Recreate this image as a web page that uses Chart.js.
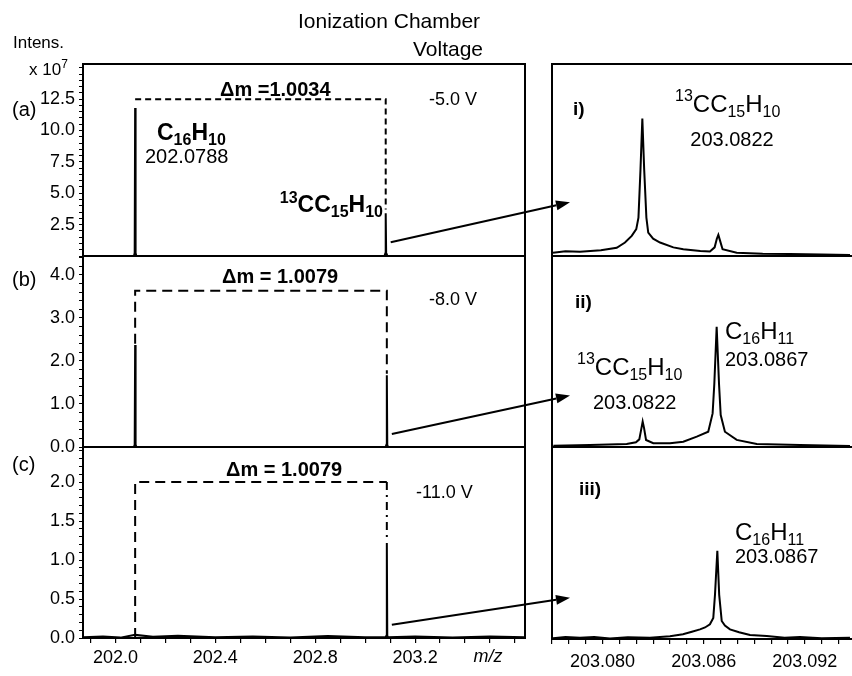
<!DOCTYPE html>
<html>
<head>
<meta charset="utf-8">
<script src="https://cdn.jsdelivr.net/npm/chart.js@4.4.1/dist/chart.umd.min.js"></script>
<style>
  html, body { margin: 0; padding: 0; background: #fff; }
  #wrap { position: relative; width: 852px; height: 676px; }
  #wrap canvas { position: absolute; left: 0; top: 0; }
</style>
</head>
<body>
<div id="wrap">
  <canvas id="pa" width="852" height="676"></canvas>
  <canvas id="pb" width="852" height="676"></canvas>
  <canvas id="pc" width="852" height="676"></canvas>
  <canvas id="pi" width="852" height="676"></canvas>
  <canvas id="pii" width="852" height="676"></canvas>
  <canvas id="piii" width="852" height="676"></canvas>
</div>
<script>
// ---------- data ----------
const mzC16H10 = 202.0788;
const mz13C = 203.0822;
const mzC16H11 = 203.0867;

// left side: wide m/z range, intensity x 10^7
const leftXMin = 201.87, leftXMax = 203.64;
const leftXLabels = [202.0, 202.4, 202.8, 203.2];

const specA_mz = [201.87, 202.0740, 202.0770, 202.0788, 202.0806, 202.0836, 203.0774, 203.0804, 203.0822, 203.0840, 203.0870, 203.64];
const specA_int = [0, 0, 0.25, 11.8, 0.25, 0, 0, 0.2, 3.4, 0.2, 0, 0];
const specB_mz = [201.87, 202.0740, 202.0770, 202.0788, 202.0806, 202.0836, 203.0819, 203.0849, 203.0867, 203.0885, 203.0915, 203.64];
const specB_int = [0, 0, 0.06, 2.37, 0.06, 0, 0, 0.05, 1.67, 0.05, 0, 0];
const specC_mz = [201.87, 201.95, 202.02, 202.0788, 202.15, 202.25, 202.40, 202.55, 202.70, 202.85, 203.00, 203.0819, 203.0849, 203.0867, 203.0885, 203.0915, 203.20, 203.35, 203.50, 203.64];
const specC_int = [0.01, 0.02, 0.005, 0.04, 0.015, 0.03, 0.01, 0.02, 0.008, 0.025, 0.01, 0.01, 0.03, 1.22, 0.03, 0.01, 0.02, 0.005, 0.02, 0.01];

// dashed Δm brackets
const brA_mz = [mzC16H10, mz13C, mz13C];
const brA_int = [12.5, 12.5, 3.7];
const brB_mz = [mzC16H10, mzC16H10, mzC16H11, mzC16H11];
const brB_int = [2.4, 3.63, 3.63, 1.7];
const brC_mz = [mzC16H10, mzC16H10, mzC16H11];
const brC_int = [0, 2.0, 2.0];
const brC2_mz = [mzC16H11, mzC16H11];
const brC2_int = [2.0, 1.25];

const yA_labels = [2.5, 5.0, 7.5, 10.0, 12.5];
const yB_labels = [0, 1, 2, 3, 4];
const yC_labels = [0, 0.5, 1.0, 1.5, 2.0];

// right side: zoom on m/z 203.08, relative intensity
const rightXMin = 203.0770, rightXMax = 203.0948;
const rightXLabels = [203.080, 203.086, 203.092];

const zoomI_mz = [203.07706, 203.07780, 203.07866, 203.07990, 203.08084, 203.08133, 203.08173, 203.08200, 203.08213,
  203.08225, 203.08236, 203.08247, 203.08260, 203.08271, 203.08300, 203.08341, 203.08420, 203.08479,
  203.08580, 203.08637, 203.08665, 203.08678, 203.08687, 203.08697, 203.08712, 203.08796, 203.08950,
  203.09112, 203.09300, 203.09468];
const zoomI_int = [0.017, 0.025, 0.022, 0.030, 0.043, 0.07, 0.105, 0.14, 0.2,
  0.45, 0.716, 0.45, 0.2, 0.122, 0.09, 0.07, 0.045, 0.035,
  0.026, 0.023, 0.045, 0.09, 0.11, 0.08, 0.035, 0.017, 0.012,
  0.01, 0.008, 0.005];

const zoomII_mz = [203.07708, 203.07925, 203.08143, 203.08198, 203.08218, 203.08231, 203.08238, 203.08246,
  203.08258, 203.08301, 203.08400, 203.08479, 203.08559, 203.08627, 203.08653, 203.08663, 203.08677,
  203.08691, 203.08701, 203.08726, 203.08796, 203.08915, 203.09171, 203.09468];
const zoomII_int = [0.007, 0.01, 0.016, 0.025, 0.04, 0.1, 0.133, 0.1,
  0.037, 0.02, 0.02, 0.028, 0.054, 0.08, 0.176, 0.33, 0.63,
  0.33, 0.167, 0.08, 0.037, 0.016, 0.01, 0.005];

const zoomIII_mz = [203.07706, 203.07780, 203.07866, 203.07950, 203.08044, 203.08150, 203.08281, 203.08400,
  203.08477, 203.08530, 203.08578, 203.08608, 203.08637, 203.08657, 203.08667, 203.08681, 203.08692, 203.08707,
  203.08726, 203.08756, 203.08810, 203.08875, 203.08974, 203.09080, 203.09171, 203.09300, 203.09468];
const zoomIII_int = [0.004, 0.01, 0.006, 0.011, 0.003, 0.009, 0.007, 0.014,
  0.025, 0.038, 0.05, 0.06, 0.077, 0.11, 0.23, 0.46, 0.23, 0.094,
  0.07, 0.05, 0.035, 0.021, 0.016, 0.006, 0.01, 0.004, 0.006];

// ---------- helpers ----------
const FONT = '"Liberation Sans", Arial, Helvetica, sans-serif';
const charts = {};

function steps(from, to, step) {
  const out = [];
  const n = Math.round((to - from) / step);
  for (let i = 0; i <= n; i++) out.push(+(from + i * step).toFixed(6));
  return out;
}
function isLabel(list, v) { return list.some(l => Math.abs(l - v) < 1e-7); }
function pts(xs, ys) { return xs.map((x, i) => ({ x: x, y: ys[i] })); }

function line(xs, ys, width, dash) {
  return {
    data: pts(xs, ys), showLine: true, borderColor: '#000', borderWidth: width,
    borderDash: dash || [], pointRadius: 0, tension: 0, fill: false
  };
}

// text with _{sub} and ^{sup}
function drawRich(ctx, n) {
  const size = n.size || 18;
  const small = n.small || Math.round(size * 0.68);
  const weight = n.bold ? 'bold ' : '';
  const style = n.italic ? 'italic ' : '';
  const segs = [];
  const re = /(\^|_)\{([^}]*)\}|([^_^]+)/g;
  let m;
  while ((m = re.exec(n.text)) !== null) {
    if (m[3]) segs.push({ t: m[3], k: 'n' });
    else segs.push({ t: m[2], k: m[1] === '_' ? 'sub' : 'sup' });
  }
  let total = 0;
  segs.forEach(s => {
    ctx.font = style + weight + (s.k === 'n' ? size : small) + 'px ' + FONT;
    s.w = ctx.measureText(s.t).width;
    total += s.w;
  });
  let x = n.x;
  if (n.align === 'right') x -= total;
  else if (n.align === 'center') x -= total / 2;
  ctx.fillStyle = '#000';
  ctx.textBaseline = 'middle';
  ctx.textAlign = 'left';
  segs.forEach(s => {
    ctx.font = style + weight + (s.k === 'n' ? size : small) + 'px ' + FONT;
    let y = n.y;
    if (s.k === 'sub') y += size * 0.3;
    if (s.k === 'sup') y -= size * 0.33;
    ctx.fillText(s.t, x, y);
    x += s.w;
  });
}

function panelPlugin(p) {
  return {
    id: 'panel_' + p.name,
    afterDatasetsDraw(chart) {
      const ctx = chart.ctx, a = chart.chartArea;
      ctx.save();
      ctx.strokeStyle = '#000';
      ctx.lineWidth = 2;
      ctx.setLineDash([]);
      ctx.beginPath();
      if (p.open) {
        ctx.moveTo(a.right + 5, a.top); ctx.lineTo(a.left, a.top);
        ctx.lineTo(a.left, a.bottom); ctx.lineTo(a.right + 5, a.bottom);
      } else {
        ctx.rect(a.left, a.top, a.right - a.left, a.bottom - a.top);
      }
      ctx.stroke();
      (p.notes || []).forEach(n => drawRich(ctx, n));
      if (p.arrow) {
        const L = charts[p.arrow.src];
        const x0 = L.scales.x.getPixelForValue(p.arrow.mz) + 5;
        const y0 = L.scales.y.getPixelForValue(p.arrow.v);
        const x1 = a.left + 18;
        const y1 = chart.scales.y.getPixelForValue(p.arrow.tipV);
        const ang = Math.atan2(y1 - y0, x1 - x0);
        const hl = 14, hw = 5;
        const bx = x1 - hl * Math.cos(ang), by = y1 - hl * Math.sin(ang);
        ctx.lineWidth = 2;
        ctx.beginPath(); ctx.moveTo(x0, y0); ctx.lineTo(bx, by); ctx.stroke();
        ctx.beginPath();
        ctx.moveTo(x1, y1);
        ctx.lineTo(bx + hw * Math.sin(ang), by - hw * Math.cos(ang));
        ctx.lineTo(bx - hw * Math.sin(ang), by + hw * Math.cos(ang));
        ctx.closePath();
        ctx.fillStyle = '#000';
        ctx.fill();
      }
      ctx.restore();
    }
  };
}

function makeChart(id, p) {
  const xTicks = p.xLabels ? (p.side === 'left' ? steps(201.9, 203.6, 0.1) : steps(203.077, 203.094, 0.001)) : [];
  const xDec = p.side === 'left' ? 1 : 3;
  const yWidth = p.side === 'left' ? 50 : 0;
  const xHeight = p.showX ? 30 : 0;
  const cfg = {
    type: 'scatter',
    data: { datasets: p.datasets },
    options: {
      responsive: false,
      animation: false,
      events: [],
      layout: {
        padding: {
          left: p.area.left - yWidth,
          top: p.area.top,
          right: 852 - p.area.right,
          bottom: 676 - p.area.bottom - xHeight
        }
      },
      plugins: { legend: { display: false }, tooltip: { enabled: false } },
      scales: {
        x: {
          type: 'linear',
          min: p.xMin, max: p.xMax,
          display: !!p.showX,
          afterFit: s => { s.height = xHeight; },
          afterBuildTicks: s => { s.ticks = xTicks.map(v => ({ value: v })); },
          grid: { display: true, drawOnChartArea: false, drawTicks: true, tickLength: 5, color: '#000', lineWidth: 1.2 },
          border: { display: false },
          ticks: {
            autoSkip: false, maxRotation: 0, padding: p.xPad || 4, color: '#000',
            font: { family: FONT, size: 18 },
            callback: v => (p.xLabels && isLabel(p.xLabels, v)) ? v.toFixed(xDec) : ''
          }
        },
        y: {
          type: 'linear',
          min: 0, max: p.yMax,
          display: p.side === 'left',
          afterFit: s => { s.width = yWidth; },
          afterBuildTicks: s => { if (p.yTicks) s.ticks = p.yTicks.map(v => ({ value: v })); },
          grid: { display: true, drawOnChartArea: false, drawTicks: true, tickLength: 4, color: '#000', lineWidth: 1 },
          border: { display: false },
          ticks: {
            autoSkip: false, padding: 4, color: '#000',
            font: { family: FONT, size: 18 },
            callback: v => (p.yLabels && isLabel(p.yLabels, v)) ? v.toFixed(1) : ''
          }
        }
      }
    },
    plugins: [panelPlugin(p)]
  };
  charts[p.name] = new Chart(document.getElementById(id), cfg);
}

// ---------- left panels ----------
makeChart('pa', {
  name: 'a', side: 'left', area: { left: 83, top: 64, right: 525, bottom: 256 },
  xMin: leftXMin, xMax: leftXMax, yMax: 15.3,
  yTicks: steps(0, 15, 0.5), yLabels: yA_labels,
  datasets: [line(specA_mz, specA_int, 2), line(brA_mz, brA_int, 2, [6, 4])],
  notes: [
    { text: 'Ionization Chamber', x: 298, y: 22, size: 21 },
    { text: 'Voltage', x: 483, y: 50, size: 21, align: 'right' },
    { text: 'Intens.', x: 13, y: 43, size: 17 },
    { text: 'x 10^{7}', x: 29, y: 70, size: 17 },
    { text: '(a)', x: 12, y: 110, size: 20 },
    { text: 'Δm =1.0034', x: 220, y: 90, size: 20, bold: true },
    { text: 'C_{16}H_{10}', x: 157, y: 134, size: 23, small: 16, bold: true },
    { text: '202.0788', x: 145, y: 157, size: 20 },
    { text: '^{13}CC_{15}H_{10}', x: 383, y: 206, size: 23, small: 16, bold: true, align: 'right' },
    { text: '-5.0 V', x: 429, y: 100, size: 18 }
  ]
});

makeChart('pb', {
  name: 'b', side: 'left', area: { left: 83, top: 256, right: 525, bottom: 447 },
  xMin: leftXMin, xMax: leftXMax, yMax: 4.44,
  yTicks: steps(0, 4.4, 0.2), yLabels: yB_labels,
  datasets: [line(specB_mz, specB_int, 2), line(brB_mz, brB_int, 2, [10, 6])],
  notes: [
    { text: '(b)', x: 12, y: 280, size: 20 },
    { text: 'Δm = 1.0079', x: 222, y: 277, size: 20, bold: true },
    { text: '-8.0 V', x: 429, y: 300, size: 18 }
  ]
});

makeChart('pc', {
  name: 'c', side: 'left', area: { left: 83, top: 447, right: 525, bottom: 638 },
  xMin: leftXMin, xMax: leftXMax, yMax: 2.45, showX: true, xLabels: leftXLabels, xPad: 4,
  yTicks: steps(0, 2.4, 0.1), yLabels: yC_labels,
  datasets: [line(specC_mz, specC_int, 2), line(brC_mz, brC_int, 2, [10, 6]), line(brC2_mz, brC2_int, 2, [8, 5, 2, 5])],
  notes: [
    { text: '(c)', x: 12, y: 465, size: 20 },
    { text: 'Δm = 1.0079', x: 226, y: 470, size: 20, bold: true },
    { text: '-11.0 V', x: 416, y: 493, size: 18 },
    { text: 'm/z', x: 488, y: 657, size: 18, italic: true, align: 'center' }
  ]
});

// ---------- right panels ----------
makeChart('pi', {
  name: 'i', side: 'right', open: true, area: { left: 552, top: 64, right: 852, bottom: 256 },
  xMin: rightXMin, xMax: rightXMax, yMax: 1,
  datasets: [line(zoomI_mz, zoomI_int, 2)],
  arrow: { src: 'a', mz: mz13C, v: 1.1, tipV: 0.28 },
  notes: [
    { text: 'i)', x: 573, y: 110, size: 19, bold: true },
    { text: '^{13}CC_{15}H_{10}', x: 675, y: 105, size: 24 },
    { text: '203.0822', x: 732, y: 140, size: 20, align: 'center' }
  ]
});

makeChart('pii', {
  name: 'ii', side: 'right', open: true, area: { left: 552, top: 256, right: 852, bottom: 447 },
  xMin: rightXMin, xMax: rightXMax, yMax: 1,
  datasets: [line(zoomII_mz, zoomII_int, 2)],
  arrow: { src: 'b', mz: mzC16H11, v: 0.3, tipV: 0.27 },
  notes: [
    { text: 'ii)', x: 575, y: 303, size: 19, bold: true },
    { text: '^{13}CC_{15}H_{10}', x: 577, y: 368, size: 24 },
    { text: '203.0822', x: 593, y: 403, size: 20 },
    { text: 'C_{16}H_{11}', x: 725, y: 332, size: 24 },
    { text: '203.0867', x: 725, y: 360, size: 20 }
  ]
});

makeChart('piii', {
  name: 'iii', side: 'right', open: true, area: { left: 552, top: 447, right: 852, bottom: 639 },
  xMin: rightXMin, xMax: rightXMax, yMax: 1, showX: true, xLabels: rightXLabels, xPad: 7,
  datasets: [line(zoomIII_mz, zoomIII_int, 2)],
  arrow: { src: 'c', mz: mzC16H11, v: 0.17, tipV: 0.215 },
  notes: [
    { text: 'iii)', x: 579, y: 490, size: 19, bold: true },
    { text: 'C_{16}H_{11}', x: 735, y: 533, size: 24 },
    { text: '203.0867', x: 735, y: 557, size: 20 }
  ]
});
</script>
</body>
</html>
